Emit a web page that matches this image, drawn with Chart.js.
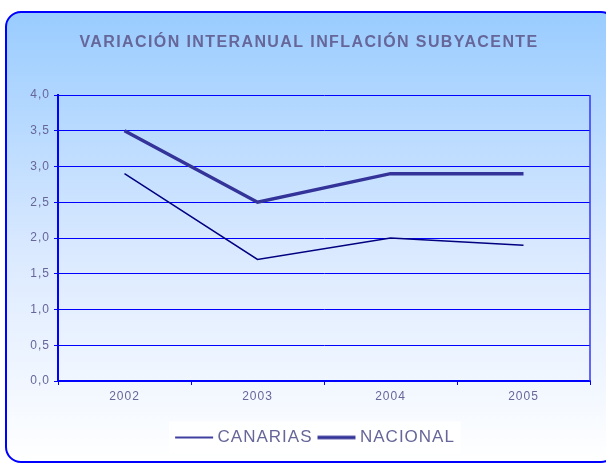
<!DOCTYPE html>
<html>
<head>
<meta charset="utf-8">
<script src="https://cdn.jsdelivr.net/npm/chart.js@4"></script>
<style>
  html, body { margin: 0; padding: 0; background: #ffffff; }
  #wrap { width: 606px; height: 463px; }
</style>
</head>
<body>
<div id="wrap"><canvas id="myChart" width="606" height="463"></canvas></div>
<script>
'use strict';

// data
var years = ['2002', '2003', '2004', '2005'];
var canarias = [2.9, 1.7, 2.0, 1.9];
var nacional = [3.5, 2.5, 2.9, 2.9];
var yTickLabels = ['0,0', '0,5', '1,0', '1,5', '2,0', '2,5', '3,0', '3,5', '4,0'];

var textColor = '#666699';
var blue = '#0000ff';
var fontFamily = "'Liberation Sans', Arial, sans-serif";

// little canvas with a line, used as the legend sample
function lineSample(color, width) {
  var c = document.createElement('canvas');
  c.width = 42;
  c.height = 6;
  var g = c.getContext('2d');
  g.strokeStyle = color;
  g.lineWidth = width;
  g.beginPath();
  g.moveTo(2, 3);
  g.lineTo(40, 3);
  g.stroke();
  return c;
}

// background panel with rounded blue border + spacing on text
var panelPlugin = {
  id: 'panel',
  afterInit: function (chart) {
    // title has wider letter spacing than the rest
    var tb = chart.titleBlock;
    if (tb) {
      var origDraw = tb.draw.bind(tb);
      tb.draw = function () {
        var c = chart.ctx;
        var prev = c.letterSpacing;
        c.letterSpacing = '1.4px';
        origDraw();
        c.letterSpacing = prev;
      };
    }
  },
  beforeUpdate: function (chart) {
    chart.ctx.letterSpacing = '1px';
  },
  afterLayout: function (chart) {
    // legend sits a bit right of centre in the original
    if (chart.legend) {
      chart.legend.left += 8;
      chart.legend.right += 8;
    }
  },
  beforeDraw: function (chart) {
    var ctx = chart.ctx;
    ctx.save();
    ctx.fillStyle = '#ffffff';
    ctx.fillRect(0, 0, chart.width, chart.height);
    var x = 6, y = 12, w = 610, h = 450, r = 15;
    var grad = ctx.createLinearGradient(0, y, 0, y + h);
    grad.addColorStop(0, '#99ccff');
    grad.addColorStop(0.55, '#dceaff');
    grad.addColorStop(1, '#ffffff');
    ctx.beginPath();
    ctx.roundRect(x, y, w, h, r);
    ctx.fillStyle = grad;
    ctx.fill();
    ctx.lineWidth = 2;
    ctx.strokeStyle = blue;
    ctx.stroke();

    // white box behind legend
    var lg = chart.legend;
    if (lg && lg.legendHitBoxes && lg.legendHitBoxes.length) {
      var first = lg.legendHitBoxes[0];
      var last = lg.legendHitBoxes[lg.legendHitBoxes.length - 1];
      ctx.fillStyle = 'rgba(255,255,255,0.85)';
      ctx.fillRect(first.left - 10, first.top + first.height / 2 - 16, last.left + last.width - first.left + 16, 32);
    }
    ctx.restore();
    ctx.letterSpacing = '1px';
  },
  afterDatasetsDraw: function (chart) {
    var ctx = chart.ctx;
    var a = chart.chartArea;
    ctx.save();
    ctx.strokeStyle = '#3333ff';
    ctx.lineWidth = 1.5;
    ctx.beginPath();
    ctx.moveTo(a.right, a.top);
    ctx.lineTo(a.right, a.bottom);
    ctx.stroke();
    ctx.restore();
  }
};

var ctx = document.getElementById('myChart').getContext('2d');

var chart = new Chart(ctx, {
  type: 'line',
  data: {
    labels: years,
    datasets: [{
      label: 'CANARIAS',
      data: canarias,
      borderColor: '#000080',
      backgroundColor: '#000080',
      borderWidth: 1.5,
      pointRadius: 0,
      pointStyle: lineSample('#000080', 1.5),
      tension: 0
    },
    {
      label: 'NACIONAL',
      data: nacional,
      borderColor: '#333399',
      backgroundColor: '#333399',
      borderWidth: 3.5,
      pointRadius: 0,
      pointStyle: lineSample('#333399', 3.5),
      tension: 0
    }]
  },
  options: {
    responsive: false,
    animation: false,
    layout: {
      padding: { left: 28, right: 16, top: 0, bottom: 7 }
    },
    plugins: {
      title: {
        display: true,
        text: 'VARIACIÓN INTERANUAL INFLACIÓN SUBYACENTE',
        color: textColor,
        font: { family: fontFamily, size: 16, weight: 'bold' },
        padding: { top: 32.5, bottom: 43.3 }
      },
      legend: {
        position: 'bottom',
        labels: {
          usePointStyle: true,
          boxWidth: 30,
          pointStyleWidth: 30,
          padding: 9,
          color: textColor,
          font: { family: fontFamily, size: 17 }
        }
      },
      tooltip: { enabled: false }
    },
    scales: {
      x: {
        offset: true,
        afterFit: function (scale) { scale.height = 39; },
        grid: {
          offset: true,
          drawOnChartArea: false,
          drawTicks: true,
          tickLength: 4,
          color: blue
        },
        border: { display: true, color: blue, width: 2 },
        ticks: {
          color: textColor,
          padding: 4,
          font: { family: fontFamily, size: 12 }
        }
      },
      y: {
        min: 0,
        max: 4,
        afterFit: function (scale) { scale.width = 30; },
        grid: {
          color: blue,
          lineWidth: 1,
          tickLength: 4
        },
        border: { display: true, color: blue, width: 2 },
        ticks: {
          stepSize: 0.5,
          color: textColor,
          padding: 4,
          font: { family: fontFamily, size: 12 },
          callback: function (value, index) {
            return yTickLabels[index];
          }
        }
      }
    }
  },
  plugins: [panelPlugin]
});
</script>
</body>
</html>
